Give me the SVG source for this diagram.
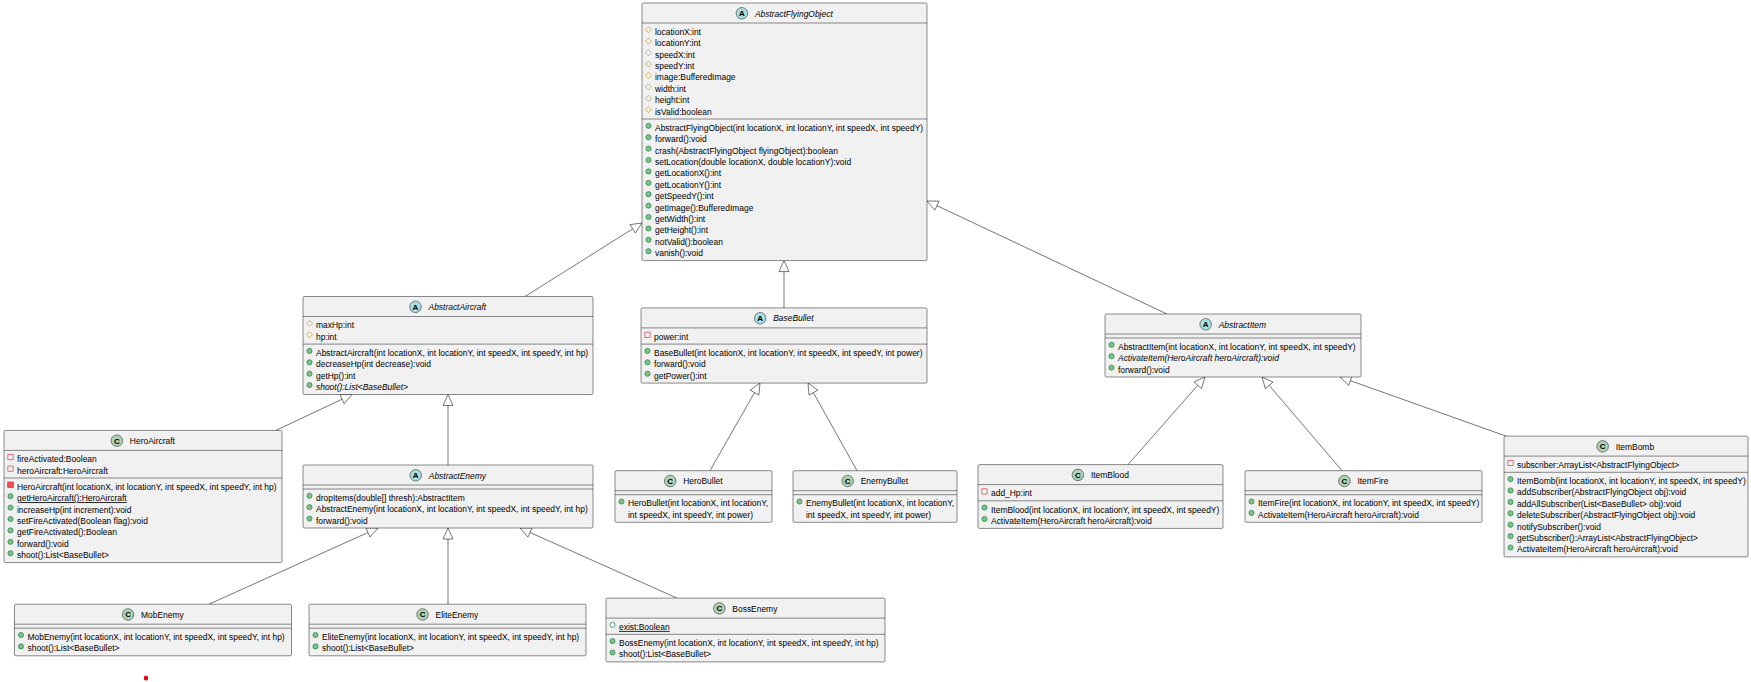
<svg xmlns="http://www.w3.org/2000/svg" width="1751" height="682" viewBox="0 0 1751 682">
<style>
.box{fill:#F1F1F1;stroke:#181818;stroke-width:0.5}
.sep{stroke:#181818;stroke-width:0.5}
text{font-family:"Liberation Sans",Arial,sans-serif;font-size:8.45px;fill:#000}
.abs{font-style:italic}
.st{text-decoration:underline}
.ci{stroke:#181818;stroke-width:0.5}
.ca{fill:#A9DCDF}
.cc{fill:#ADD1B2}
.lt{font-size:8px;font-weight:bold;text-anchor:middle}
.edge line{stroke:#181818;stroke-width:0.6}
.edge polygon{fill:#FFFFFF;stroke:#181818;stroke-width:0.6}
</style>
<defs>
<circle id="pm" r="2.6" fill="#84BE84" stroke="#038048" stroke-width="0.6"/>
<circle id="pf" r="2.6" fill="none" stroke="#038048" stroke-width="0.6"/>
<rect id="vf" x="-2.6" y="-2.6" width="5.2" height="5.2" fill="none" stroke="#C82930" stroke-width="0.6"/>
<rect id="vm" x="-2.8" y="-2.8" width="5.6" height="5.6" fill="#F24D5C" stroke="#C82930" stroke-width="0.6"/>
<polygon id="tf" points="0,-3 3,0 0,3 -3,0" fill="none" stroke="#B38D22" stroke-width="0.6"/>
</defs>

<!-- inheritance connectors -->
<g id="connectors">
<g class="edge"><line x1="525" y1="296.5" x2="632.69" y2="228.85"/><polygon points="642,223 635.35,233.08 630.03,224.62"/></g>
<g class="edge"><line x1="784" y1="307.9" x2="784" y2="271.6"/><polygon points="784,260.6 779,271.6 789,271.6"/></g>
<g class="edge"><line x1="1167" y1="314" x2="936.95" y2="205.68"/><polygon points="927,201 939.08,201.16 934.82,210.2"/></g>
<g class="edge"><line x1="276" y1="430.4" x2="342.05" y2="399.2"/><polygon points="352,394.5 344.19,403.72 339.91,394.68"/></g>
<g class="edge"><line x1="448" y1="465" x2="448" y2="405.5"/><polygon points="448,394.5 443,405.5 453,405.5"/></g>
<g class="edge"><line x1="710" y1="470.7" x2="754.55" y2="392.56"/><polygon points="760,383.1 758.89,395.04 750.21,390.08"/></g>
<g class="edge"><line x1="857" y1="470.7" x2="813.37" y2="392.6"/><polygon points="808,383.1 817.73,390.16 809.01,395.04"/></g>
<g class="edge"><line x1="1128" y1="464.6" x2="1197.74" y2="385.26"/><polygon points="1205,377 1201.5,388.56 1193.98,381.96"/></g>
<g class="edge"><line x1="1342" y1="470.7" x2="1269.14" y2="385.37"/><polygon points="1262,377 1272.94,382.12 1265.34,388.62"/></g>
<g class="edge"><line x1="1506" y1="436.1" x2="1350.37" y2="380.68"/><polygon points="1340,377 1352.04,375.97 1348.7,385.39"/></g>
<g class="edge"><line x1="209" y1="604.2" x2="367.97" y2="532.51"/><polygon points="378,528 370.02,537.07 365.92,527.95"/></g>
<g class="edge"><line x1="448" y1="604.2" x2="448" y2="539"/><polygon points="448,528 443,539 453,539"/></g>
<g class="edge"><line x1="677" y1="598.1" x2="530.05" y2="532.48"/><polygon points="520,528 532.09,527.91 528.01,537.05"/></g>
</g>

<!-- AbstractFlyingObject -->
<g id="AbstractFlyingObject" transform="translate(642,3)">
<rect class="box" width="285" height="257.6" rx="1.5"/>
<circle class="ci ca" cx="99.9" cy="10.3" r="5.8"/><text class="lt" x="99.9" y="13.2">A</text>
<text class="abs" x="112.9" y="13.5">AbstractFlyingObject</text>
<line class="sep" x1="0" x2="285" y1="20" y2="20"/>
<g transform="translate(0,20)">
<use href="#tf" x="6.5" y="6.8"/><text x="13" y="11.8">locationX:int</text>
<use href="#tf" x="6.5" y="18.2"/><text x="13" y="23.2">locationY:int</text>
<use href="#tf" x="6.5" y="29.6"/><text x="13" y="34.6">speedX:int</text>
<use href="#tf" x="6.5" y="41"/><text x="13" y="46">speedY:int</text>
<use href="#tf" x="6.5" y="52.4"/><text x="13" y="57.4">image:BufferedImage</text>
<use href="#tf" x="6.5" y="63.8"/><text x="13" y="68.8">width:int</text>
<use href="#tf" x="6.5" y="75.2"/><text x="13" y="80.2">height:int</text>
<use href="#tf" x="6.5" y="86.6"/><text x="13" y="91.6">isValid:boolean</text>
</g>
<line class="sep" x1="0" x2="285" y1="116" y2="116"/>
<g transform="translate(0,116)">
<use href="#pm" x="6.5" y="6.8"/><text x="13" y="11.8">AbstractFlyingObject(int locationX, int locationY, int speedX, int speedY)</text>
<use href="#pm" x="6.5" y="18.2"/><text x="13" y="23.2">forward():void</text>
<use href="#pm" x="6.5" y="29.6"/><text x="13" y="34.6">crash(AbstractFlyingObject flyingObject):boolean</text>
<use href="#pm" x="6.5" y="41"/><text x="13" y="46">setLocation(double locationX, double locationY):void</text>
<use href="#pm" x="6.5" y="52.4"/><text x="13" y="57.4">getLocationX():int</text>
<use href="#pm" x="6.5" y="63.8"/><text x="13" y="68.8">getLocationY():int</text>
<use href="#pm" x="6.5" y="75.2"/><text x="13" y="80.2">getSpeedY():int</text>
<use href="#pm" x="6.5" y="86.6"/><text x="13" y="91.6">getImage():BufferedImage</text>
<use href="#pm" x="6.5" y="98"/><text x="13" y="103">getWidth():int</text>
<use href="#pm" x="6.5" y="109.4"/><text x="13" y="114.4">getHeight():int</text>
<use href="#pm" x="6.5" y="120.8"/><text x="13" y="125.8">notValid():boolean</text>
<use href="#pm" x="6.5" y="132.2"/><text x="13" y="137.2">vanish():void</text>
</g>
</g>

<!-- AbstractAircraft -->
<g id="AbstractAircraft" transform="translate(303,296.5)">
<rect class="box" width="290" height="98" rx="1.5"/>
<circle class="ci ca" cx="112.5" cy="10.3" r="5.8"/><text class="lt" x="112.5" y="13.2">A</text>
<text class="abs" x="125.5" y="13.5">AbstractAircraft</text>
<line class="sep" x1="0" x2="290" y1="20" y2="20"/>
<g transform="translate(0,20)">
<use href="#tf" x="6.5" y="6.8"/><text x="13" y="11.8">maxHp:int</text>
<use href="#tf" x="6.5" y="18.2"/><text x="13" y="23.2">hp:int</text>
</g>
<line class="sep" x1="0" x2="290" y1="47.6" y2="47.6"/>
<g transform="translate(0,47.6)">
<use href="#pm" x="6.5" y="6.8"/><text x="13" y="11.8">AbstractAircraft(int locationX, int locationY, int speedX, int speedY, int hp)</text>
<use href="#pm" x="6.5" y="18.2"/><text x="13" y="23.2">decreaseHp(int decrease):void</text>
<use href="#pm" x="6.5" y="29.6"/><text x="13" y="34.6">getHp():int</text>
<use href="#pm" x="6.5" y="41"/><text class="abs" x="13" y="46">shoot():List&lt;BaseBullet&gt;</text>
</g>
</g>

<!-- BaseBullet -->
<g id="BaseBullet" transform="translate(641,307.9)">
<rect class="box" width="286" height="75.2" rx="1.5"/>
<circle class="ci ca" cx="119.2" cy="10.3" r="5.8"/><text class="lt" x="119.2" y="13.2">A</text>
<text class="abs" x="132.2" y="13.5">BaseBullet</text>
<line class="sep" x1="0" x2="286" y1="20" y2="20"/>
<g transform="translate(0,20)">
<use href="#vf" x="6.5" y="6.8"/><text x="13" y="11.8">power:int</text>
</g>
<line class="sep" x1="0" x2="286" y1="36.2" y2="36.2"/>
<g transform="translate(0,36.2)">
<use href="#pm" x="6.5" y="6.8"/><text x="13" y="11.8">BaseBullet(int locationX, int locationY, int speedX, int speedY, int power)</text>
<use href="#pm" x="6.5" y="18.2"/><text x="13" y="23.2">forward():void</text>
<use href="#pm" x="6.5" y="29.6"/><text x="13" y="34.6">getPower():int</text>
</g>
</g>

<!-- AbstractItem -->
<g id="AbstractItem" transform="translate(1105,314)">
<rect class="box" width="256" height="63" rx="1.5"/>
<circle class="ci ca" cx="100.7" cy="10.3" r="5.8"/><text class="lt" x="100.7" y="13.2">A</text>
<text class="abs" x="113.7" y="13.5">AbstractItem</text>
<line class="sep" x1="0" x2="256" y1="20" y2="20"/>
<line class="sep" x1="0" x2="256" y1="24" y2="24"/>
<g transform="translate(0,24)">
<use href="#pm" x="6.5" y="6.8"/><text x="13" y="11.8">AbstractItem(int locationX, int locationY, int speedX, int speedY)</text>
<use href="#pm" x="6.5" y="18.2"/><text class="abs" x="13" y="23.2">ActivateItem(HeroAircraft heroAircraft):void</text>
<use href="#pm" x="6.5" y="29.6"/><text x="13" y="34.6">forward():void</text>
</g>
</g>

<!-- HeroAircraft -->
<g id="HeroAircraft" transform="translate(4,430.4)">
<rect class="box" width="278" height="132.2" rx="1.5"/>
<circle class="ci cc" cx="112.85" cy="10.3" r="5.8"/><text class="lt" x="112.85" y="13.2">C</text>
<text x="125.85" y="13.5">HeroAircraft</text>
<line class="sep" x1="0" x2="278" y1="20" y2="20"/>
<g transform="translate(0,20)">
<use href="#vf" x="6.5" y="6.8"/><text x="13" y="11.8">fireActivated:Boolean</text>
<use href="#vf" x="6.5" y="18.2"/><text x="13" y="23.2">heroAircraft:HeroAircraft</text>
</g>
<line class="sep" x1="0" x2="278" y1="47.6" y2="47.6"/>
<g transform="translate(0,47.6)">
<use href="#vm" x="6.5" y="6.8"/><text x="13" y="11.8">HeroAircraft(int locationX, int locationY, int speedX, int speedY, int hp)</text>
<use href="#pm" x="6.5" y="18.2"/><text class="st" x="13" y="23.2">getHeroAircraft():HeroAircraft</text>
<use href="#pm" x="6.5" y="29.6"/><text x="13" y="34.6">increaseHp(int increment):void</text>
<use href="#pm" x="6.5" y="41"/><text x="13" y="46">setFireActivated(Boolean flag):void</text>
<use href="#pm" x="6.5" y="52.4"/><text x="13" y="57.4">getFireActivated():Boolean</text>
<use href="#pm" x="6.5" y="63.8"/><text x="13" y="68.8">forward():void</text>
<use href="#pm" x="6.5" y="75.2"/><text x="13" y="80.2">shoot():List&lt;BaseBullet&gt;</text>
</g>
</g>

<!-- AbstractEnemy -->
<g id="AbstractEnemy" transform="translate(303,465)">
<rect class="box" width="290" height="63" rx="1.5"/>
<circle class="ci ca" cx="112.75" cy="10.3" r="5.8"/><text class="lt" x="112.75" y="13.2">A</text>
<text class="abs" x="125.75" y="13.5">AbstractEnemy</text>
<line class="sep" x1="0" x2="290" y1="20" y2="20"/>
<line class="sep" x1="0" x2="290" y1="24" y2="24"/>
<g transform="translate(0,24)">
<use href="#pm" x="6.5" y="6.8"/><text x="13" y="11.8">dropItems(double[] thresh):AbstractItem</text>
<use href="#pm" x="6.5" y="18.2"/><text x="13" y="23.2">AbstractEnemy(int locationX, int locationY, int speedX, int speedY, int hp)</text>
<use href="#pm" x="6.5" y="29.6"/><text x="13" y="34.6">forward():void</text>
</g>
</g>

<!-- HeroBullet -->
<g id="HeroBullet" transform="translate(615,470.7)">
<rect class="box" width="157" height="51.6" rx="1.5"/>
<circle class="ci cc" cx="55.2" cy="10.3" r="5.8"/><text class="lt" x="55.2" y="13.2">C</text>
<text x="68.2" y="13.5">HeroBullet</text>
<line class="sep" x1="0" x2="157" y1="20" y2="20"/>
<line class="sep" x1="0" x2="157" y1="24" y2="24"/>
<g transform="translate(0,24)">
<use href="#pm" x="6.5" y="6.8"/><text x="13" y="11.8">HeroBullet(int locationX, int locationY,</text>
<text x="13" y="23.2">int speedX, int speedY, int power)</text>
</g>
</g>

<!-- EnemyBullet -->
<g id="EnemyBullet" transform="translate(793,470.7)">
<rect class="box" width="164" height="51.6" rx="1.5"/>
<circle class="ci cc" cx="54.7" cy="10.3" r="5.8"/><text class="lt" x="54.7" y="13.2">C</text>
<text x="67.7" y="13.5">EnemyBullet</text>
<line class="sep" x1="0" x2="164" y1="20" y2="20"/>
<line class="sep" x1="0" x2="164" y1="24" y2="24"/>
<g transform="translate(0,24)">
<use href="#pm" x="6.5" y="6.8"/><text x="13" y="11.8">EnemyBullet(int locationX, int locationY,</text>
<text x="13" y="23.2">int speedX, int speedY, int power)</text>
</g>
</g>

<!-- ItemBlood -->
<g id="ItemBlood" transform="translate(978,464.6)">
<rect class="box" width="245" height="63.8" rx="1.5"/>
<circle class="ci cc" cx="99.9" cy="10.3" r="5.8"/><text class="lt" x="99.9" y="13.2">C</text>
<text x="112.9" y="13.5">ItemBlood</text>
<line class="sep" x1="0" x2="245" y1="20" y2="20"/>
<g transform="translate(0,20)">
<use href="#vf" x="6.5" y="6.8"/><text x="13" y="11.8">add_Hp:int</text>
</g>
<line class="sep" x1="0" x2="245" y1="36.2" y2="36.2"/>
<g transform="translate(0,36.2)">
<use href="#pm" x="6.5" y="6.8"/><text x="13" y="11.8">ItemBlood(int locationX, int locationY, int speedX, int speedY)</text>
<use href="#pm" x="6.5" y="18.2"/><text x="13" y="23.2">ActivateItem(HeroAircraft heroAircraft):void</text>
</g>
</g>

<!-- ItemFire -->
<g id="ItemFire" transform="translate(1245,470.7)">
<rect class="box" width="237" height="51.6" rx="1.5"/>
<circle class="ci cc" cx="99.4" cy="10.3" r="5.8"/><text class="lt" x="99.4" y="13.2">C</text>
<text x="112.4" y="13.5">ItemFire</text>
<line class="sep" x1="0" x2="237" y1="20" y2="20"/>
<line class="sep" x1="0" x2="237" y1="24" y2="24"/>
<g transform="translate(0,24)">
<use href="#pm" x="6.5" y="6.8"/><text x="13" y="11.8">ItemFire(int locationX, int locationY, int speedX, int speedY)</text>
<use href="#pm" x="6.5" y="18.2"/><text x="13" y="23.2">ActivateItem(HeroAircraft heroAircraft):void</text>
</g>
</g>

<!-- ItemBomb -->
<g id="ItemBomb" transform="translate(1504,436.1)">
<rect class="box" width="244" height="120.8" rx="1.5"/>
<circle class="ci cc" cx="98.65" cy="10.3" r="5.8"/><text class="lt" x="98.65" y="13.2">C</text>
<text x="111.65" y="13.5">ItemBomb</text>
<line class="sep" x1="0" x2="244" y1="20" y2="20"/>
<g transform="translate(0,20)">
<use href="#vf" x="6.5" y="6.8"/><text x="13" y="11.8">subscriber:ArrayList&lt;AbstractFlyingObject&gt;</text>
</g>
<line class="sep" x1="0" x2="244" y1="36.2" y2="36.2"/>
<g transform="translate(0,36.2)">
<use href="#pm" x="6.5" y="6.8"/><text x="13" y="11.8">ItemBomb(int locationX, int locationY, int speedX, int speedY)</text>
<use href="#pm" x="6.5" y="18.2"/><text x="13" y="23.2">addSubscriber(AbstractFlyingObject obj):void</text>
<use href="#pm" x="6.5" y="29.6"/><text x="13" y="34.6">addAllSubscriber(List&lt;BaseBullet&gt; obj):void</text>
<use href="#pm" x="6.5" y="41"/><text x="13" y="46">deleteSubscriber(AbstractFlyingObject obj):void</text>
<use href="#pm" x="6.5" y="52.4"/><text x="13" y="57.4">notifySubscriber():void</text>
<use href="#pm" x="6.5" y="63.8"/><text x="13" y="68.8">getSubscriber():ArrayList&lt;AbstractFlyingObject&gt;</text>
<use href="#pm" x="6.5" y="75.2"/><text x="13" y="80.2">ActivateItem(HeroAircraft heroAircraft):void</text>
</g>
</g>

<!-- MobEnemy -->
<g id="MobEnemy" transform="translate(14.5,604.2)">
<rect class="box" width="277" height="51.6" rx="1.5"/>
<circle class="ci cc" cx="113.55" cy="10.3" r="5.8"/><text class="lt" x="113.55" y="13.2">C</text>
<text x="126.55" y="13.5">MobEnemy</text>
<line class="sep" x1="0" x2="277" y1="20" y2="20"/>
<line class="sep" x1="0" x2="277" y1="24" y2="24"/>
<g transform="translate(0,24)">
<use href="#pm" x="6.5" y="6.8"/><text x="13" y="11.8">MobEnemy(int locationX, int locationY, int speedX, int speedY, int hp)</text>
<use href="#pm" x="6.5" y="18.2"/><text x="13" y="23.2">shoot():List&lt;BaseBullet&gt;</text>
</g>
</g>

<!-- EliteEnemy -->
<g id="EliteEnemy" transform="translate(309,604.2)">
<rect class="box" width="277" height="51.6" rx="1.5"/>
<circle class="ci cc" cx="113.55" cy="10.3" r="5.8"/><text class="lt" x="113.55" y="13.2">C</text>
<text x="126.55" y="13.5">EliteEnemy</text>
<line class="sep" x1="0" x2="277" y1="20" y2="20"/>
<line class="sep" x1="0" x2="277" y1="24" y2="24"/>
<g transform="translate(0,24)">
<use href="#pm" x="6.5" y="6.8"/><text x="13" y="11.8">EliteEnemy(int locationX, int locationY, int speedX, int speedY, int hp)</text>
<use href="#pm" x="6.5" y="18.2"/><text x="13" y="23.2">shoot():List&lt;BaseBullet&gt;</text>
</g>
</g>

<!-- BossEnemy -->
<g id="BossEnemy" transform="translate(606,598.1)">
<rect class="box" width="279" height="63.8" rx="1.5"/>
<circle class="ci cc" cx="113.35" cy="10.3" r="5.8"/><text class="lt" x="113.35" y="13.2">C</text>
<text x="126.35" y="13.5">BossEnemy</text>
<line class="sep" x1="0" x2="279" y1="20" y2="20"/>
<g transform="translate(0,20)">
<use href="#pf" x="6.5" y="6.8"/><text class="st" x="13" y="11.8">exist:Boolean</text>
</g>
<line class="sep" x1="0" x2="279" y1="36.2" y2="36.2"/>
<g transform="translate(0,36.2)">
<use href="#pm" x="6.5" y="6.8"/><text x="13" y="11.8">BossEnemy(int locationX, int locationY, int speedX, int speedY, int hp)</text>
<use href="#pm" x="6.5" y="18.2"/><text x="13" y="23.2">shoot():List&lt;BaseBullet&gt;</text>
</g>
</g>

<ellipse id="marker-dot" cx="146" cy="678" rx="2.2" ry="2.6" fill="#E5000C"/>
</svg>
